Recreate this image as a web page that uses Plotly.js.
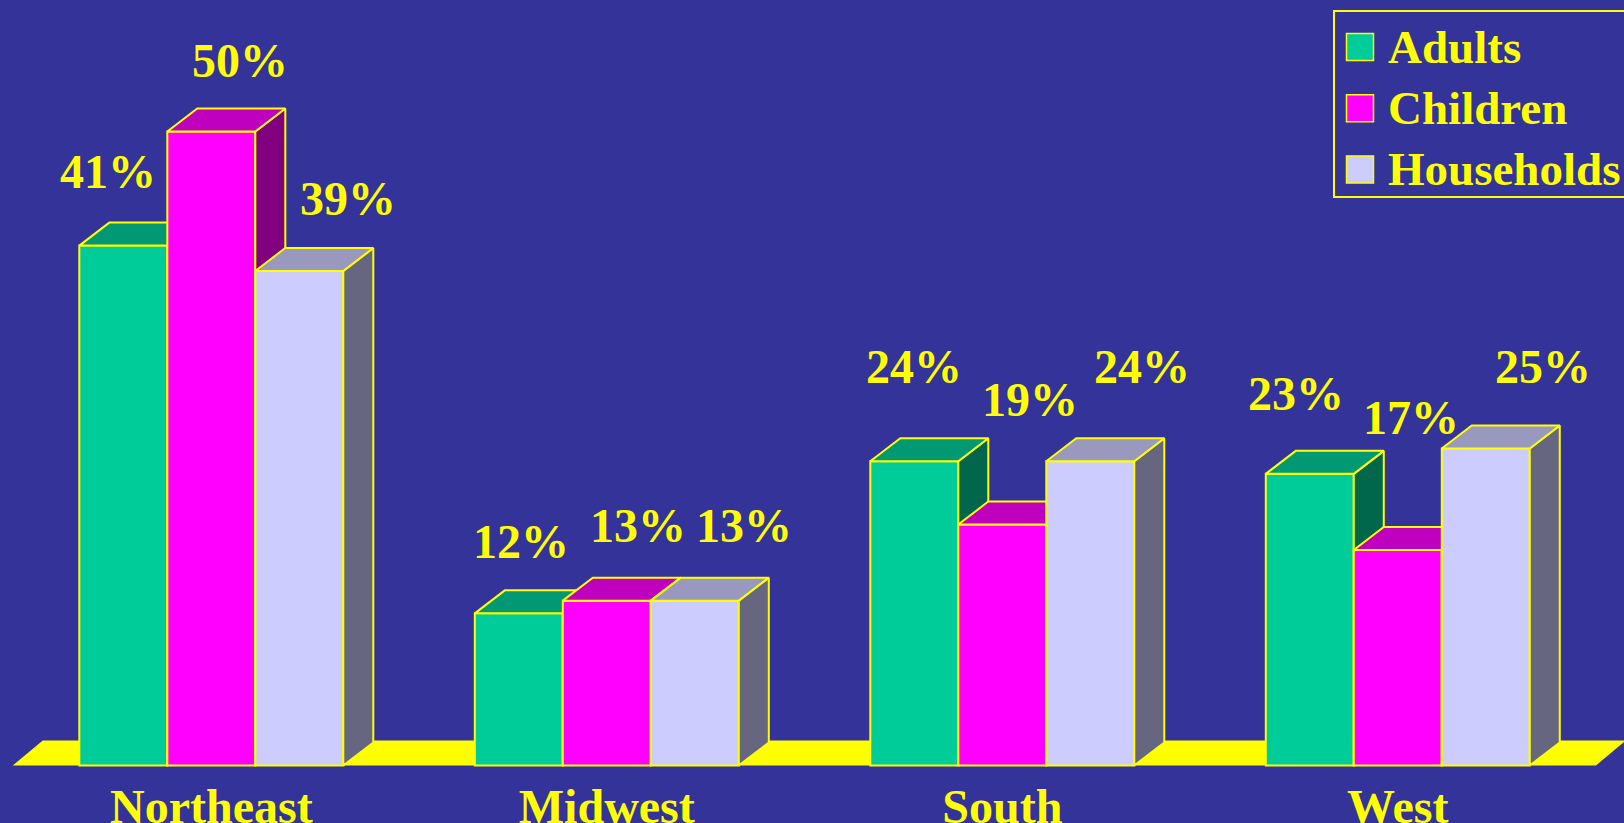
<!DOCTYPE html>
<html>
<head>
<meta charset="utf-8">
<script src="https://cdn.plot.ly/plotly-3.0.1.min.js"></script>
<style>
  html, body { margin: 0; padding: 0; background: #333399; }
  #chart { width: 1624px; height: 823px; }
</style>
</head>
<body>
<div id="chart"></div>
<script>
// ---------- data ----------
const categories = ["Northeast", "Midwest", "South", "West"];
const seriesNames = ["Adults", "Children", "Households"];
const adults = [41, 12, 24, 23];
const children = [50, 13, 19, 17];
const households = [39, 13, 24, 25];
const seriesValues = [adults, children, households];

// ---------- styling / layout constants ----------
const W = 1624, H = 823;
const M = { l: 0, r: 0, t: 0, b: 53 };
const plotH = H - M.t - M.b;
const FONT = "Liberation Serif, Times New Roman, serif";
const YELLOW = "#FFFF00";
const frontColors = ["#00CC99", "#FF00FF", "#CCCCFF"];
const topColors = ["#009973", "#BF00BF", "#9999BF"];
const sideColors = ["#00664C", "#800080", "#666680"];

const xRange = [-0.5343, 3.572];
const yRange = [-0.355, 60.37];
const pxPerX = W / (xRange[1] - xRange[0]);
const pxPerY = plotH / (yRange[1] - yRange[0]);

const barW = 0.2225;            // bar width in category units
const depthX = 30 / pxPerX;     // 3D depth offset (x)
const depthY = 23 / pxPerY;     // 3D depth offset (y)

// label placement tweaks (pixels) relative to the top-centre of each bar
const labelShiftX = [[-15, 2, 0, -14], [29, 31, 28, 13], [49, 49, 52, 57]];
const labelShiftY = [[74, 72, 95, 80], [71, 75, 125, 132], [72, 75, 95, 82]];

const xIdx = categories.map((_, i) => i);
const traces = [];
const annotations = [];

seriesValues.forEach((vals, s) => {
  const ax = s === 0 ? "" : String(s + 1);
  const off = -1.5 * barW + s * barW;
  // front faces
  traces.push({
    type: "bar", x: xIdx, y: vals, width: barW, offset: off,
    xaxis: "x" + ax, yaxis: "y" + ax, name: seriesNames[s],
    marker: { color: frontColors[s], line: { color: YELLOW, width: 2 } },
    hoverinfo: "skip", showlegend: false
  });
  // side and top faces
  const sx = [], sy = [], tx = [], ty = [];
  vals.forEach((v, i) => {
    const l = i + off, r = l + barW;
    sx.push(r, r + depthX, r + depthX, r, r, null);
    sy.push(0, depthY, v + depthY, v, 0, null);
    tx.push(l, l + depthX, r + depthX, r, l, null);
    ty.push(v, v + depthY, v + depthY, v, v, null);
    annotations.push({
      x: l + barW / 2, y: v, xref: "x", yref: "y",
      text: v + "%", showarrow: false,
      xanchor: "center", yanchor: "middle",
      xshift: labelShiftX[s][i], yshift: labelShiftY[s][i],
      font: { family: FONT, size: 48, color: YELLOW, weight: "bold" }
    });
  });
  traces.push({
    type: "scatter", mode: "lines", x: sx, y: sy, fill: "toself",
    fillcolor: sideColors[s], line: { color: YELLOW, width: 2 },
    xaxis: "x" + ax, yaxis: "y" + ax, hoverinfo: "skip", showlegend: false
  });
  traces.push({
    type: "scatter", mode: "lines", x: tx, y: ty, fill: "toself",
    fillcolor: topColors[s], line: { color: YELLOW, width: 2 },
    xaxis: "x" + ax, yaxis: "y" + ax, hoverinfo: "skip", showlegend: false
  });
});

// ---------- floor and custom legend ----------
const px = (x) => x / W;
const py = (y) => 1 - (y - M.t) / plotH;
const shapes = [];
const fx0 = -0.502, fx1 = categories.length - 0.499;
const fdx = 30 / pxPerX, fdy = 25 / pxPerY;
shapes.push({
  type: "path", xref: "x", yref: "y", layer: "below",
  path: `M ${fx0},0 L ${fx1},0 L ${fx1 + fdx},${fdy} L ${fx0 + fdx},${fdy} Z`,
  fillcolor: YELLOW, line: { width: 0 }
});
shapes.push({
  type: "rect", xref: "paper", yref: "paper",
  x0: px(1334), x1: px(1640), y0: py(197), y1: py(11),
  line: { color: YELLOW, width: 2 }, fillcolor: "rgba(0,0,0,0)"
});
const legendRows = [47, 108.2, 169.4];
seriesNames.forEach((name, s) => {
  const cy = legendRows[s];
  shapes.push({
    type: "rect", xref: "paper", yref: "paper",
    x0: px(1346.5), x1: px(1373.5), y0: py(cy + 13.5), y1: py(cy - 13.5),
    fillcolor: frontColors[s], line: { color: YELLOW, width: 1.5 }
  });
  annotations.push({
    x: px(1386), y: py(cy), xref: "paper", yref: "paper",
    text: name, showarrow: false, xanchor: "left", yanchor: "middle",
    font: { family: FONT, size: 47, color: YELLOW, weight: "bold" }
  });
});

const hiddenAxis = (extra) => Object.assign({
  range: xRange, visible: false, fixedrange: true
}, extra);

const layout = {
  width: W, height: H, margin: M,
  paper_bgcolor: "#333399", plot_bgcolor: "#333399",
  showlegend: false,
  xaxis: {
    range: xRange, tickmode: "array", tickvals: xIdx, ticktext: categories,
    showgrid: false, zeroline: false, showline: false, ticks: "",
    ticklabelstandoff: 4,
    tickfont: { family: FONT, size: 48, color: YELLOW, weight: "bold" },
    fixedrange: true
  },
  yaxis: { range: yRange, visible: false, fixedrange: true },
  xaxis2: hiddenAxis({ overlaying: "x" }),
  yaxis2: { range: yRange, visible: false, overlaying: "y", fixedrange: true },
  xaxis3: hiddenAxis({ overlaying: "x" }),
  yaxis3: { range: yRange, visible: false, overlaying: "y", fixedrange: true },
  shapes: shapes,
  annotations: annotations
};

Plotly.newPlot("chart", traces, layout, { displayModeBar: false, staticPlot: true });
</script>
</body>
</html>
